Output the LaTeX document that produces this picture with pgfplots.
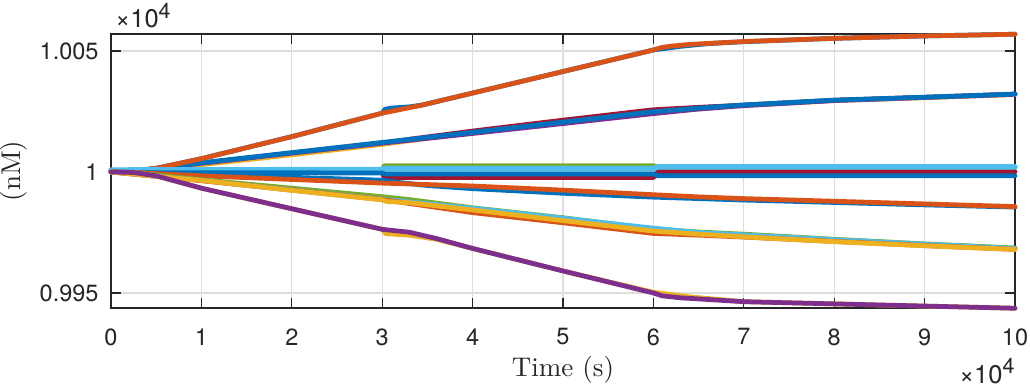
\documentclass[border=0pt]{standalone}
\usepackage{fontspec}
\setsansfont{TeX Gyre Heros}
\usepackage{pgfplots}
\pgfplotsset{compat=1.18}
\definecolor{mblue}{rgb}{0,0.447,0.741}
\definecolor{morange}{rgb}{0.85,0.325,0.098}
\definecolor{myellow}{rgb}{0.929,0.694,0.125}
\definecolor{mpurple}{rgb}{0.494,0.184,0.556}
\definecolor{mgreen}{rgb}{0.466,0.674,0.188}
\definecolor{mlblue}{rgb}{0.301,0.745,0.933}
\definecolor{mred}{rgb}{0.635,0.078,0.184}
\newcommand{\tickfont}{\sffamily\fontsize{9.4}{11}\selectfont}
\newcommand{\expfont}{\sffamily\fontsize{10.2}{12}\selectfont}
\begin{document}
\begin{tikzpicture}
\useasboundingbox (0,0) rectangle (412pt,155.2pt);
\begin{axis}[
  at={(44.4pt,32pt)}, anchor=south west,
  scale only axis, width=361.6pt, height=109.6pt,
  xmin=0, xmax=10, ymin=9943.8, ymax=10057,
  clip=false,
  scaled ticks=false,
  xtick={0,1,2,3,4,5,6,7,8,9,10},
  xticklabels={0,1,2,3,4,5,6,7,8,9,10},
  ytick={9950,10000,10050},
  yticklabels={0.995,1,1.005},
  tick align=inside, major tick length=4pt,
  grid=major,
  major grid style={color=black!13, line width=0.5pt},
  axis line style={color=black!85, line width=0.5pt},
  tick style={color=black!85, line width=0.5pt},
  ticklabel style={font=\tickfont, text=black!85},
  xticklabel style={anchor=north, inner sep=0pt, yshift=-8pt},
  yticklabel style={anchor=east, inner sep=0pt, xshift=-4.8pt},
  xlabel={Time (s)},
  ylabel={(nM)},
  label style={font=\fontsize{10.8}{12}\selectfont, text=black!85},
  xlabel style={at={(axis description cs:0.5,0)}, anchor=base, yshift=-27.2pt},
  ylabel style={at={(axis description cs:-0.1004,0.5)}, anchor=base},
  every axis plot/.append style={line width=1.9pt, line join=round, line cap=round},
]
% second group (rising slowly)
\addplot[mred] coordinates {(0,10000)(0.3,10000.4)(1,10003.3)(2,10007.4)(3,10011.7)(3.3,10013.5)(4,10016.9)(5,10021.4)(6,10025.7)(6.5,10026.7)(7,10027.6)(8,10029.6)(9,10030.8)(10,10032.1)};
\addplot[myellow] coordinates {(0,10000)(0.3,10000.3)(1,10003.0)(2,10007.1)(3,10011.4)(3.5,10013.9)(4,10016.2)(5,10020.4)(6,10024.6)(7,10027.5)(8,10029.5)(9,10030.7)(10,10032.0)};
\addplot[mpurple] coordinates {(0,10000)(0.3,10000.5)(1,10003.6)(2,10007.8)(3,10011.9)(4,10015.9)(5,10020.0)(6,10024.1)(6.5,10026.0)(7,10027.4)(8,10029.5)(9,10030.8)(10,10032.1)};
\addplot[mblue] coordinates {(0,10000)(0.3,10000.6)(1,10003.8)(2,10008.0)(3,10012.2)(4,10016.4)(5,10020.6)(6,10024.9)(6.5,10026.4)(7,10027.7)(8,10029.7)(9,10030.9)(10,10032.2)};
% top group
\addplot[mblue] coordinates {(0,10000)(0.2,10000.1)(0.5,10001.5)(1,10005.5)(2,10014.6)(3,10024.3)(3.03,10025.9)(3.1,10026.4)(3.3,10026.9)(3.45,10027.7)(4,10032.6)(5,10041.5)(6,10050.4)(6.1,10050.9)(6.3,10051.9)(6.6,10053.0)(7,10053.8)(8,10055.2)(9,10056.2)(10,10056.9)};
\addplot[morange] coordinates {(0,10000)(0.2,10000.1)(0.5,10001.5)(1,10005.5)(2,10014.6)(3,10024.3)(3.4,10027.3)(4,10032.6)(5,10041.5)(6,10050.4)(6.1,10051.5)(6.2,10052.0)(6.4,10052.7)(7,10053.9)(8,10055.2)(9,10056.2)(10,10056.9)};
% flat group
\addplot[mgreen] coordinates {(0,10000)(3,10000.3)(3.02,10002.6)(6,10002.6)(6.05,10002.0)(10,10002.0)};
\addplot[mred] coordinates {(0,10000.2)(3,10000.4)(3.02,9997.7)(6,9997.7)(6.05,10000.1)(10,10000.1)};
\addplot[mlblue, line width=2.2pt] coordinates {(0,10000.8)(3,10001.0)(3.02,10001.4)(6,10001.4)(6.05,10002.1)(10,10002.1)};
\addplot[mblue] coordinates {(0,10000)(0.3,9999.7)(3,9999.6)(3.02,9999.2)(6,9999.2)(6.05,9998.4)(10,9998.4)};
% fourth group
\addplot[mblue] coordinates {(0,10000)(0.3,9999.8)(1,9998.9)(2,9997.8)(3,9996.6)(3.2,9995.6)(3.5,9994.4)(4,9993.1)(5,9991.2)(6,9989.6)(7,9988.4)(8,9987.4)(9,9986.4)(10,9985.5)};
\addplot[morange] coordinates {(0,10000)(0.3,9999.7)(1,9998.4)(2,9996.9)(3,9995.4)(4,9994.2)(5,9992.5)(6,9990.6)(6.5,9989.7)(7,9989.0)(8,9987.9)(9,9986.8)(10,9985.7)};
% fifth group
\addplot[mgreen] coordinates {(0,10000)(0.3,9999.5)(1,9996.8)(2,9993.3)(3,9989.8)(3.3,9988.6)(4,9985.2)(5,9981.1)(6,9976.4)(6.5,9975.2)(7,9974.3)(8,9972.2)(9,9970.3)(10,9968.6)};
\addplot[mlblue] coordinates {(0,10000)(1,9996.5)(2,9992.6)(3,9988.7)(4,9985.0)(5,9980.9)(6,9976.8)(6.5,9975.0)(7,9974.0)(8,9972.0)(9,9970.2)(10,9968.4)};
\addplot[morange] coordinates {(0,10000)(1,9996.4)(2,9992.5)(3,9988.6)(4,9983.2)(5,9979.0)(6,9974.6)(6.5,9973.9)(7,9973.1)(8,9971.3)(9,9969.6)(10,9968.0)};
\addplot[myellow] coordinates {(0,10000)(1,9996.5)(2,9992.4)(3,9988.5)(3.05,9987.8)(3.3,9987.3)(4,9984.3)(5,9979.9)(6,9975.6)(6.5,9974.3)(7,9973.2)(8,9971.2)(9,9969.5)(10,9968.0)};
% bottom group
\addplot[myellow] coordinates {(0,10000)(0.25,9999.8)(0.5,9998.4)(1,9993.3)(2,9984.8)(3,9976.3)(3.04,9974.5)(3.3,9973.9)(3.6,9972.2)(4,9968.4)(5,9959.1)(6,9950.3)(6.15,9949.6)(6.4,9948.4)(7,9946.4)(8,9945.5)(9,9944.6)(10,9943.7)};
\addplot[mpurple] coordinates {(0,10000)(0.25,9999.8)(0.5,9998.4)(1,9993.3)(2,9984.8)(3,9976.3)(3.3,9975.1)(3.6,9972.5)(4,9968.4)(5,9959.1)(6,9950.0)(6.1,9948.8)(6.3,9948.0)(7,9946.4)(8,9945.5)(9,9944.6)(10,9943.7)};
% exponent labels
\node[anchor=base west, inner sep=0pt, font=\expfont, text=black!85] at (axis description cs:0,1) [xshift=1.6pt, yshift=2.4pt] {×10\raisebox{3.8pt}{\fontsize{8.6}{9}\selectfont 4}};
\node[anchor=base east, inner sep=0pt, font=\expfont, text=black!85] at (axis description cs:1,0) [yshift=-30pt] {×10\raisebox{3.8pt}{\fontsize{8.6}{9}\selectfont 4}};
\end{axis}
\end{tikzpicture}
\end{document}
